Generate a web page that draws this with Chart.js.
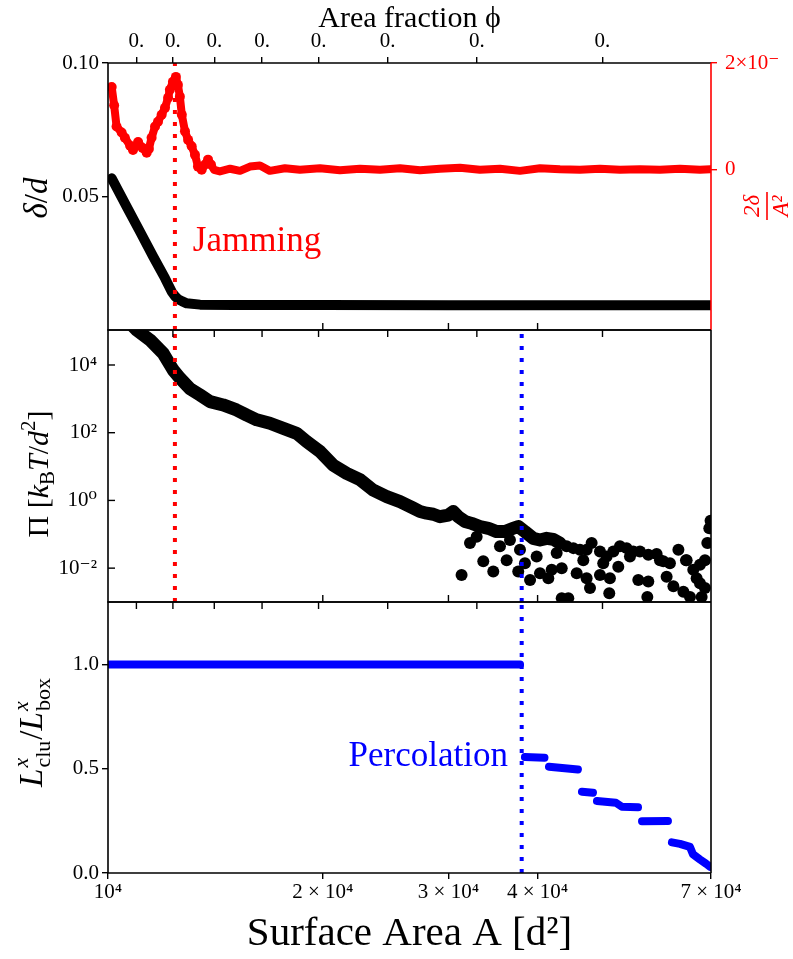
<!DOCTYPE html>
<html>
<head>
<meta charset="utf-8">
<title>Jamming and percolation</title>
<script src="https://cdn.jsdelivr.net/npm/chart.js@4.4.1/dist/chart.umd.min.js"></script>
<style>
  html, body { margin: 0; padding: 0; background: #fff; }
  #wrap { position: relative; width: 793px; height: 959px; }
  canvas { position: absolute; left: 0; }
</style>
</head>
<body>
<div id="wrap">
  <canvas id="panelDelta" width="793" height="332" style="top:0px"></canvas>
  <canvas id="panelPi" width="793" height="276" style="top:328px"></canvas>
  <canvas id="panelPerc" width="793" height="359" style="top:600px"></canvas>
</div>
<script>
// shared x axis (surface area A, log)
const xMin = 1e4;
const xMax = 7e4;
const areaTicks = [1e4, 2e4, 3e4, 4e4, 7e4];
const areaTickLabels = ['10⁴', '2 × 10⁴', '3 × 10⁴', '4 × 10⁴', '7 × 10⁴'];
const innerAreaTicks = [2e4, 3e4, 4e4];

// top axis: area fraction phi = phiConst / A
const phiConst = 9864;
const phiTicks = [0.9, 0.8, 0.7, 0.6, 0.5, 0.4, 0.3, 0.2];
const phiTickLabels = ['0.', '0.', '0.', '0.', '0.', '0.', '0.', '0.'];

// transitions
const jamArea = 12410;
const percArea = 38000;

// panel 1: delta/d (left) and curvature (right)
const deltaTicks = [0.05, 0.10];
const deltaA = [10120, 10620, 11090, 11570, 12020, 12280, 12410, 12540, 12690, 12890, 13460, 15000, 20000, 30000, 45000, 70000];
const deltaVal = [0.0568, 0.0462, 0.0368, 0.0275, 0.0194, 0.0144, 0.0127, 0.0115, 0.0108, 0.0100, 0.0095, 0.0094, 0.0094, 0.0093, 0.0093, 0.0093];

const curvTicks = [0, 2];
const curvTickLabels = ['0', '2×10⁻'];
const curvA = [10120, 10200, 10280, 10450, 10560, 10740, 10840, 11020, 11180, 11330,
  11410, 11510, 11640, 11750, 11890, 12020, 12140, 12210, 12330, 12450,
  12530, 12610, 12690, 12820, 12950, 13100, 13240, 13370, 13530, 13680,
  13810, 13940, 14080, 14350, 14830, 15310, 15810, 16330, 16860, 17700,
  18580, 19820, 21140, 22550, 24060, 25660, 27370, 29190, 31140, 33210,
  35430, 37790, 40310, 43000, 45860, 48920, 52180, 55660, 59370, 63330,
  67550, 69800];
const curvVal = [1.55, 1.21, 0.81, 0.70, 0.60, 0.45, 0.37, 0.52, 0.41, 0.32,
  0.39, 0.60, 0.81, 0.90, 1.03, 1.16, 1.35, 1.50, 1.65, 1.74,
  1.59, 1.37, 1.03, 0.72, 0.56, 0.44, 0.28, 0.06, 0.00, 0.10,
  0.19, 0.10, 0.00, -0.03, 0.02, -0.02, 0.06, 0.08, -0.02, 0.03,
  0.00, 0.03, -0.01, 0.02, 0.00, 0.03, -0.01, 0.02, 0.04, 0.00,
  0.02, -0.02, 0.03, 0.01, 0.00, 0.02, 0.00, 0.01, 0.00, 0.02,
  0.00, 0.01];
// before this area the red markers show as separate dots, after it they merge into a band
const curvDenseFrom = 14080;

// panel 2: pressure Pi (log)
const piTicks = [1e-2, 1, 1e2, 1e4];
const piTickLabels = ['10⁻²', '10⁰', '10²', '10⁴'];
const piBandA = [10560, 10970, 11450, 11950, 12340, 12610, 13030, 13460, 13900, 14500,
  15140, 15650, 16160, 16860, 17610, 18380, 18980, 19820, 20690, 21600,
  22550, 23540, 24580, 25660, 26220, 26790, 27370, 27960, 28570, 29190,
  29990, 30470, 30970, 31640, 32330, 33210, 34120, 35050, 36000, 36980,
  37580, 38400, 39450, 40310, 41190, 42080, 43000];
const piBandVal = [2.5e5, 1.07e5, 5.5e4, 2.2e4, 7100, 4100, 2000, 1300, 830, 660,
  470, 330, 240, 190, 135, 96, 55, 28, 11, 6.3,
  4.1, 2.0, 1.3, 0.92, 0.74, 0.59, 0.47, 0.42, 0.39, 0.33,
  0.37, 0.47, 0.33, 0.24, 0.21, 0.17, 0.15, 0.12, 0.12, 0.15,
  0.17, 0.12, 0.076, 0.068, 0.076, 0.071, 0.055];
const piScatA = [43930, 44890, 45860, 46860, 47620, 48920, 49980, 51070, 52180, 53310,
  54470, 55660, 57180, 58740, 60010, 61310, 63010, 64710, 66110, 67550,
  68650, 69170, 69620, 69900,
  32860, 35430, 36590, 37790, 39880, 42540, 46360, 49440, 53890, 59370,
  31300, 32160, 33570, 34670, 36200, 37580, 38400, 39040, 40310, 41410,
  41860, 43240, 43240, 44170, 45380, 46860, 47370, 48920, 50410, 50520,
  51900, 55360, 57000, 57180, 60660, 62000, 64030, 64570, 65410, 66830,
  67550, 68650, 67920];
const piScatVal = [0.044, 0.039, 0.035, 0.035, 0.055, 0.031, 0.022, 0.031, 0.044, 0.039,
  0.031, 0.031, 0.025, 0.026, 0.016, 0.014, 0.035, 0.017, 0.0089, 0.0126,
  0.017, 0.055, 0.15, 0.25,
  0.085, 0.044, 0.068, 0.035, 0.022, 0.028, 0.017, 0.014, 0.022, 0.017,
  0.0063, 0.055, 0.016, 0.0079, 0.017, 0.0079, 0.014, 0.0045, 0.0071, 0.0050,
  0.0089, 0.010, 0.0013, 0.0013, 0.0071, 0.0050, 0.0026, 0.0063, 0.0018, 0.0050,
  0.011, 0.0045, 0.0014, 0.0040, 0.0056, 0.0029, 0.0020, 0.017, 0.0014, 0.0050,
  0.0036, 0.0026, 0.0014];

// panel 3: cluster extent / box (null = gap between steps)
const percTicks = [0, 0.5, 1.0];
const percA = [10050, 37800, 38000, 38400, 40900, 41200, 41500, 45560, 45900, 46160,
  47830, 48100, 48450, 51500, 52500, 55310, 55700, 56030, 60920, 61300,
  61710, 63330, 65410, 66040, 67550, 68870, 69790];
const percVal = [1.0, 1.0, null, 0.556, 0.553, null, 0.51, 0.497, null, 0.39,
  0.385, null, 0.345, 0.337, 0.318, 0.315, null, 0.248, 0.25, null,
  0.147, 0.14, 0.125, 0.09, 0.065, 0.045, 0.03];

const RED = '#ff0000';
const BLUE = '#0000ff';
const FAMILY = '"Liberation Serif", "DejaVu Serif", serif';
const tickFont = { family: FAMILY, size: 21 };
const f = (size, italic) => (italic ? 'italic ' : '') + size + 'px ' + FAMILY;

Chart.defaults.font.family = FAMILY;
Chart.defaults.color = '#000';

function pts(xs, ys) {
  return xs.map((x, i) => ({ x: x, y: ys[i] }));
}
function vline(xv, lo, hi) {
  return [{ x: xv, y: lo }, { x: xv, y: hi }];
}
function setTicks(values) {
  return s => { s.ticks = values.map(v => ({ value: v })); };
}
// force an axis box size and drop the label overhang padding chart.js adds
function fixSize(key, size) {
  return s => {
    s[key] = size;
    s.paddingTop = 0; s.paddingBottom = 0; s.paddingLeft = 0; s.paddingRight = 0;
  };
}

function guide(data, color, yAxisID) {
  return {
    data, yAxisID, borderColor: color, borderWidth: 4, borderDash: [4, 8],
    borderCapStyle: 'butt', pointRadius: 0, order: 0, clip: 0
  };
}
function thick(data, color, width, yAxisID, order) {
  return {
    data, yAxisID, borderColor: color, backgroundColor: color, borderWidth: width,
    borderCapStyle: 'round', borderJoinStyle: 'round', pointRadius: 0, order, clip: 0
  };
}

// rich text for axis labels (rotated -90 deg)
function partWidth(ctx, p) {
  ctx.font = p.f;
  if (p.sup !== undefined) {
    return Math.max(ctx.measureText(p.sup).width, ctx.measureText(p.sub).width) + 2;
  }
  return ctx.measureText(p.t).width;
}
function drawRich(ctx, title) {
  ctx.save();
  ctx.translate(title.x, title.y);
  ctx.rotate(-Math.PI / 2);
  ctx.fillStyle = title.color || '#000';
  ctx.textAlign = 'left';
  ctx.textBaseline = 'alphabetic';
  const ws = title.parts.map(p => partWidth(ctx, p));
  let cx = -ws.reduce((s, w) => s + w, 0) / 2;
  title.parts.forEach((p, i) => {
    if (p.sup !== undefined) {
      ctx.font = p.fi;
      ctx.fillText(p.sup, cx + 1, title.base - 14);
      ctx.font = p.f;
      ctx.fillText(p.sub, cx + 1, title.base + 8);
    } else {
      ctx.font = p.f;
      ctx.fillText(p.t, cx, title.base + (p.dy || 0));
    }
    cx += ws[i];
  });
  ctx.restore();
}
function drawFraction(ctx, fr) {
  ctx.save();
  ctx.translate(fr.x, fr.y);
  ctx.rotate(-Math.PI / 2);
  ctx.fillStyle = fr.color;
  ctx.strokeStyle = fr.color;
  ctx.textAlign = 'center';
  ctx.textBaseline = 'alphabetic';
  ctx.font = fr.font;
  const w = Math.max(ctx.measureText(fr.num).width, ctx.measureText(fr.den).width) + 6;
  ctx.fillText(fr.num, 0, -8);
  ctx.fillText(fr.den, 0, 21);
  ctx.lineWidth = 1.6;
  ctx.beginPath();
  ctx.moveTo(-w / 2, 0);
  ctx.lineTo(w / 2, 0);
  ctx.stroke();
  ctx.restore();
}

// frame, inward ticks, notes and labels for each panel
function makeDecor(cfg) {
  return {
    id: 'decor',
    afterDatasetsDraw(chart) {
      const { ctx, chartArea: a } = chart;
      ctx.save();
      ctx.lineWidth = 1.6;
      ctx.strokeStyle = '#000';
      ctx.beginPath();
      ctx.moveTo(a.right, a.top);
      ctx.lineTo(a.left, a.top);
      ctx.lineTo(a.left, a.bottom);
      ctx.lineTo(a.right, a.bottom);
      ctx.stroke();
      ctx.strokeStyle = cfg.rightColor || '#000';
      ctx.beginPath();
      ctx.moveTo(a.right, a.top);
      ctx.lineTo(a.right, a.bottom);
      ctx.stroke();

      ctx.strokeStyle = '#000';
      ctx.lineWidth = 1.4;
      (cfg.inTicks || []).forEach(m => {
        const s = chart.scales[m.scale];
        m.values.forEach(v => {
          const p = s.getPixelForValue(v);
          ctx.beginPath();
          if (m.edge === 'top') { ctx.moveTo(p, a.top); ctx.lineTo(p, a.top + 7); }
          else if (m.edge === 'bottom') { ctx.moveTo(p, a.bottom); ctx.lineTo(p, a.bottom - 7); }
          else { ctx.moveTo(a.left, p); ctx.lineTo(a.left + 7, p); }
          ctx.stroke();
        });
      });

      (cfg.notes || []).forEach(n => {
        ctx.font = n.font;
        ctx.fillStyle = n.color;
        ctx.textAlign = n.align;
        ctx.textBaseline = 'middle';
        ctx.fillText(n.text, chart.scales.x.getPixelForValue(n.x), chart.scales[n.yAxis].getPixelForValue(n.y));
      });
      ctx.restore();
    },
    afterDraw(chart) {
      const ctx = chart.ctx;
      (cfg.titles || []).forEach(t => drawRich(ctx, t));
      if (cfg.fraction) drawFraction(ctx, cfg.fraction);
    }
  };
}

const hiddenX = { type: 'logarithmic', min: xMin, max: xMax, display: false };
const phiAreas = phiTicks.map(p => phiConst / p);
const common = {
  responsive: false,
  animation: false,
  events: [],
  plugins: { legend: { display: false }, tooltip: { enabled: false } }
};
const pad = (top, right, bottom) => ({ autoPadding: false, padding: { left: 0, right, top, bottom } });

// ---------- panel 1 ----------
const curvSet = thick(pts(curvA, curvVal), RED, 8, 'yR', 1);
curvSet.pointRadius = c => (c.raw && c.raw.x < curvDenseFrom ? 5 : 0);
curvSet.pointBorderWidth = 0;
curvSet.pointBackgroundColor = RED;

new Chart(document.getElementById('panelDelta'), {
  type: 'line',
  data: {
    datasets: [
      guide(vline(jamArea, 0, 0.1), RED, 'y'),
      curvSet,
      thick(pts(deltaA, deltaVal), '#000', 10, 'y', 2)
    ]
  },
  options: Object.assign({}, common, {
    layout: pad(0, 0, 2),
    scales: {
      x: hiddenX,
      xTop: {
        type: 'logarithmic', position: 'top', min: xMin, max: xMax,
        afterBuildTicks: setTicks(phiAreas),
        afterFit: fixSize('height', 63),
        ticks: { callback: (v, i) => phiTickLabels[i], font: tickFont, color: '#000', padding: 3, maxRotation: 0, autoSkip: false },
        grid: { drawOnChartArea: false, tickLength: 6, color: '#000', lineWidth: 1.4 },
        border: { display: false },
        title: { display: true, text: 'Area fraction ϕ', font: { family: FAMILY, size: 30 }, color: '#000', padding: { top: 1, bottom: 0 } }
      },
      y: {
        type: 'linear', position: 'left', min: 0, max: 0.1,
        afterBuildTicks: setTicks(deltaTicks),
        afterFit: fixSize('width', 108),
        ticks: { callback: v => v.toFixed(2), font: tickFont, color: '#000', padding: 3 },
        grid: { drawOnChartArea: false, tickLength: 6, color: '#000', lineWidth: 1.4 },
        border: { display: false }
      },
      yR: {
        type: 'linear', position: 'right', min: -3, max: 2,
        afterBuildTicks: setTicks(curvTicks),
        afterFit: fixSize('width', 82),
        ticks: { callback: (v, i) => curvTickLabels[i], font: tickFont, color: RED, padding: 8 },
        grid: { drawOnChartArea: false, tickLength: 6, color: RED, lineWidth: 1.4 },
        border: { display: false }
      }
    }
  }),
  plugins: [makeDecor({
    rightColor: RED,
    inTicks: [{ scale: 'x', edge: 'bottom', values: innerAreaTicks }],
    notes: [{ text: 'Jamming', x: 13150, y: 0.0331, yAxis: 'y', font: f(35), color: RED, align: 'left' }],
    titles: [{ x: 36, y: 198, base: 11, parts: [
      { t: 'δ', f: f(33, true) }, { t: '/', f: f(33) }, { t: 'd', f: f(33, true) }
    ] }],
    fraction: { x: 767, y: 206, num: '2δ', den: 'A²', font: f(23, true), color: RED }
  })]
});

// ---------- panel 2 ----------
new Chart(document.getElementById('panelPi'), {
  type: 'line',
  data: {
    datasets: [
      guide(vline(jamArea, 1e-3, 1.1e5), RED, 'y'),
      guide(vline(percArea, 1e-3, 1.1e5), BLUE, 'y'),
      {
        data: pts(piScatA, piScatVal), yAxisID: 'y', showLine: false,
        pointRadius: 6, pointBackgroundColor: '#000', pointBorderWidth: 0, order: 1, clip: 0
      },
      thick(pts(piBandA, piBandVal), '#000', 13, 'y', 2)
    ]
  },
  options: Object.assign({}, common, {
    layout: pad(2, 82, 2),
    scales: {
      x: hiddenX,
      y: {
        type: 'logarithmic', position: 'left', min: 1e-3, max: 1.08e5,
        afterBuildTicks: setTicks(piTicks),
        afterFit: fixSize('width', 108),
        ticks: { callback: (v, i) => piTickLabels[i], font: tickFont, color: '#000', padding: 11 },
        grid: { display: false, drawTicks: false },
        border: { display: false }
      }
    }
  }),
  plugins: [makeDecor({
    inTicks: [
      { scale: 'x', edge: 'top', values: phiAreas },
      { scale: 'x', edge: 'bottom', values: innerAreaTicks },
      { scale: 'y', edge: 'left', values: piTicks }
    ],
    titles: [{ x: 38, y: 146, base: 10, parts: [
      { t: 'Π [', f: f(30) }, { t: 'k', f: f(30, true) }, { t: 'B', f: f(21), dy: 6 },
      { t: 'T', f: f(30, true) }, { t: '/', f: f(30) }, { t: 'd', f: f(30, true) },
      { t: '2', f: f(21), dy: -13 }, { t: ']', f: f(30) }
    ] }]
  })]
});

// ---------- panel 3 ----------
new Chart(document.getElementById('panelPerc'), {
  type: 'line',
  data: {
    datasets: [
      guide(vline(percArea, 0, 1.3), BLUE, 'y'),
      thick(pts(percA, percVal), BLUE, 8, 'y', 1)
    ]
  },
  options: Object.assign({}, common, {
    layout: pad(2, 82, 0),
    scales: {
      x: {
        type: 'logarithmic', position: 'bottom', min: xMin, max: xMax,
        afterBuildTicks: setTicks(areaTicks),
        afterFit: fixSize('height', 86),
        ticks: { callback: (v, i) => areaTickLabels[i], font: tickFont, color: '#000', padding: 1, maxRotation: 0, autoSkip: false },
        grid: { drawOnChartArea: false, tickLength: 6, color: '#000', lineWidth: 1.4 },
        border: { display: false },
        title: { display: true, text: 'Surface Area A [d²]', font: { family: FAMILY, size: 41 }, color: '#000', padding: { top: 0, bottom: 0 } }
      },
      y: {
        type: 'linear', position: 'left', min: 0, max: 1.3,
        afterBuildTicks: setTicks(percTicks),
        afterFit: fixSize('width', 108),
        ticks: { callback: v => v.toFixed(1), font: tickFont, color: '#000', padding: 3 },
        grid: { drawOnChartArea: false, tickLength: 6, color: '#000', lineWidth: 1.4 },
        border: { display: false }
      }
    }
  }),
  plugins: [makeDecor({
    inTicks: [{ scale: 'x', edge: 'top', values: phiAreas }],
    notes: [{ text: 'Percolation', x: 36360, y: 0.559, yAxis: 'y', font: f(35), color: BLUE, align: 'right' }],
    titles: [{ x: 31, y: 132, base: 11, parts: [
      { t: 'L', f: f(33, true) },
      { sup: 'x', sub: 'clu', fi: f(22, true), f: f(22) },
      { t: '/', f: f(33) },
      { t: 'L', f: f(33, true) },
      { sup: 'x', sub: 'box', fi: f(22, true), f: f(22) }
    ] }]
  })]
});
</script>
</body>
</html>
